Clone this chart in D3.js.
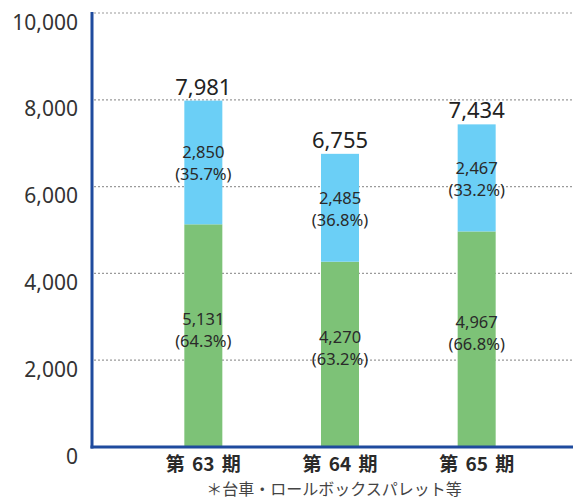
<!DOCTYPE html>
<html>
<head>
<meta charset="utf-8">
<script src="https://cdn.jsdelivr.net/npm/d3@7"></script>
<style>
  body { margin: 0; background: #fff; }
  svg text { font-family: "Noto Sans", "Noto Sans CJK JP", sans-serif; fill: #333; }
</style>
</head>
<body>
<div id="chart"></div>
<script>
const periods = ["第 63 期", "第 64 期", "第 65 期"];
const lowerValues = [5131, 4270, 4967];
const lowerShares = ["64.3%", "63.2%", "66.8%"];
const upperValues = [2850, 2485, 2467];
const upperShares = ["35.7%", "36.8%", "33.2%"];
const totals = [7981, 6755, 7434];
const yTicks = [0, 2000, 4000, 6000, 8000, 10000];
const footnote = "＊台車・ロールボックスパレット等";

const w = 573, h = 500;
const fmt = d3.format(",");

const svg = d3.select("#chart").append("svg")
  .attr("width", w)
  .attr("height", h);

const y = d3.scaleLinear().domain([0, 10000]).range([447, 13]);
const x = d3.scalePoint().domain(periods).range([135, 545]).padding(0.5);
const barW = 38;

// gridlines
svg.selectAll(".grid")
  .data(yTicks.filter(d => d > 0))
  .enter().append("line")
  .attr("x1", 94).attr("x2", w)
  .attr("y1", d => y(d)).attr("y2", d => y(d))
  .attr("stroke", "#9a9a9a")
  .attr("stroke-width", 1.2)
  .attr("stroke-dasharray", "2,2");

// y tick labels
svg.selectAll(".ylab")
  .data(yTicks)
  .enter().append("text")
  .attr("x", 78)
  .attr("y", d => y(d) + 11)
  .attr("text-anchor", "end")
  .attr("dominant-baseline", "middle")
  .style("font-size", "21px")
  .text(d => fmt(d));

const rows = periods.map((p, i) => ({
  p, lo: lowerValues[i], up: upperValues[i],
  loS: lowerShares[i], upS: upperShares[i], total: totals[i]
}));

// lower (green) segments
svg.selectAll(".lo")
  .data(rows).enter().append("rect")
  .attr("x", d => x(d.p) - barW / 2)
  .attr("width", barW)
  .attr("y", d => y(d.lo))
  .attr("height", d => y(0) - y(d.lo))
  .attr("fill", "#7dc277");

// upper (blue) segments
svg.selectAll(".up")
  .data(rows).enter().append("rect")
  .attr("x", d => x(d.p) - barW / 2)
  .attr("width", barW)
  .attr("y", d => y(d.lo + d.up))
  .attr("height", d => y(d.lo) - y(d.lo + d.up))
  .attr("fill", "#6bcff6");

// segment labels
function segLabel(cy, v, s, cx) {
  const t = svg.append("text")
    .attr("x", cx)
    .attr("text-anchor", "middle")
    .style("font-size", "16.5px")
    .style("fill", "#2a2a2a");
  t.append("tspan").attr("x", cx).attr("y", cy - 4).text(fmt(v));
  t.append("tspan").attr("x", cx).attr("y", cy + 18).text("(" + s + ")");
}
rows.forEach(d => {
  const cx = x(d.p);
  segLabel((y(d.lo) + y(0)) / 2 - 7, d.lo, d.loS, cx);
  segLabel((y(d.lo + d.up) + y(d.lo)) / 2, d.up, d.upS, cx);
});

// totals
svg.selectAll(".tot")
  .data(rows).enter().append("text")
  .attr("x", d => x(d.p))
  .attr("y", d => y(d.total) - 6)
  .attr("text-anchor", "middle")
  .style("font-size", "22px")
  .style("fill", "#222")
  .text(d => fmt(d.total));

// axes lines
svg.append("line")
  .attr("x1", 92).attr("x2", 92)
  .attr("y1", 12).attr("y2", 448.5)
  .attr("stroke", "#1f4b9e").attr("stroke-width", 3);
svg.append("line")
  .attr("x1", 90.5).attr("x2", w)
  .attr("y1", 447).attr("y2", 447)
  .attr("stroke", "#1f4b9e").attr("stroke-width", 3);

// category labels
svg.selectAll(".xlab")
  .data(periods).enter().append("text")
  .attr("x", d => x(d))
  .attr("y", 471)
  .attr("text-anchor", "middle")
  .style("font-family", "'Noto Sans CJK JP', sans-serif")
  .style("font-size", "19px")
  .style("font-weight", "bold")
  .style("fill", "#2a2a2a")
  .style("word-spacing", "3px")
  .text(d => d);

// footnote
svg.append("text")
  .attr("x", 334)
  .attr("y", 495)
  .attr("text-anchor", "middle")
  .style("font-family", "'Noto Sans CJK JP', sans-serif")
  .style("font-size", "16px")
  .style("fill", "#444")
  .text(footnote);
</script>
</body>
</html>
